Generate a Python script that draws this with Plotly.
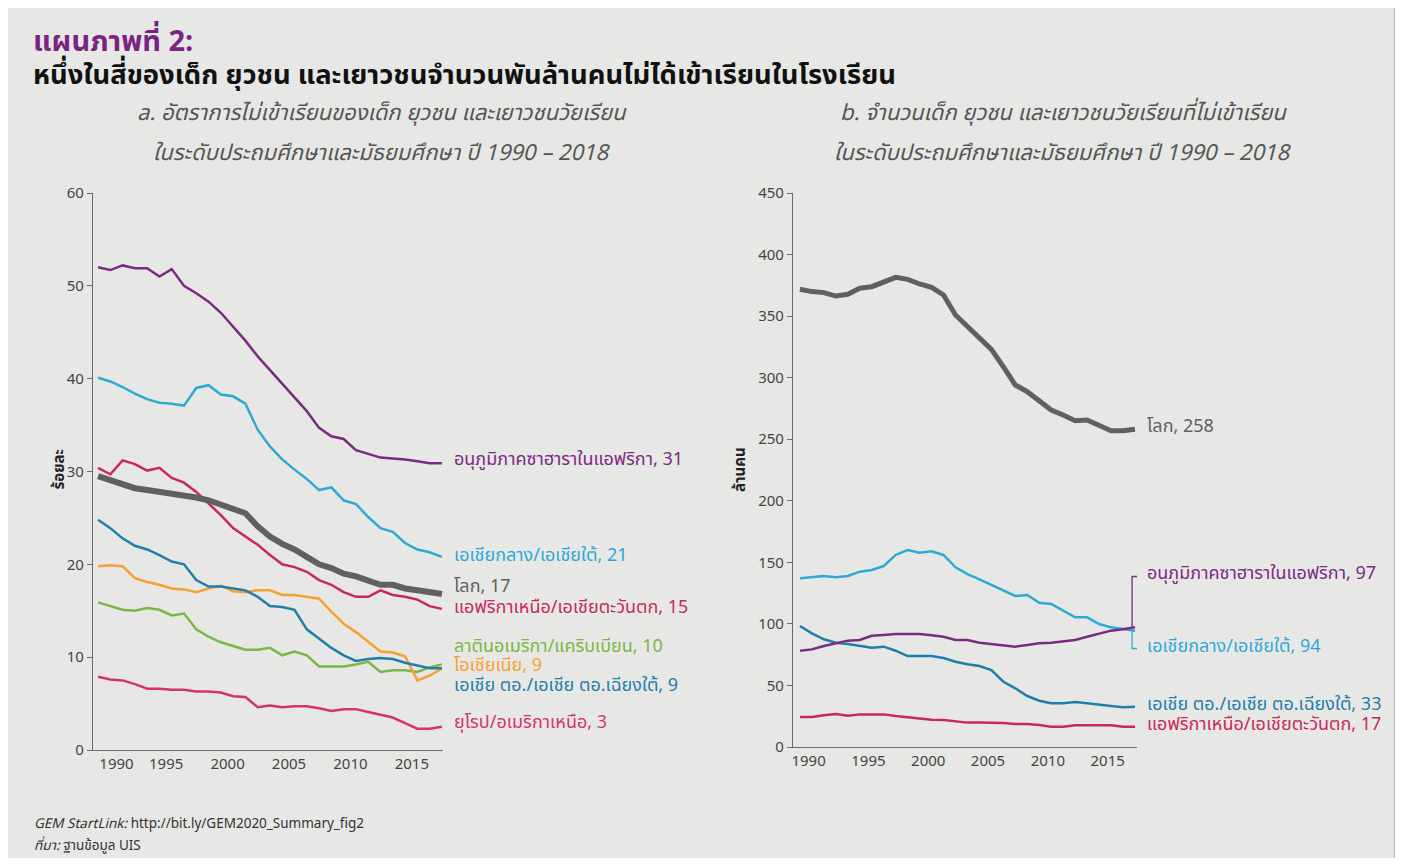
import plotly.graph_objects as go

# ---------------- data ----------------
years = list(range(1990, 2019))

# Panel a: out-of-school rate (%)
rate_ssa = [52.0, 51.7, 52.2, 51.9, 51.9, 51.0, 51.8, 50.0, 49.2, 48.3, 47.1, 45.6, 44.1, 42.4, 40.9,
            39.4, 37.9, 36.5, 34.7, 33.8, 33.5, 32.3, 31.9, 31.5, 31.4, 31.3, 31.1, 30.9, 30.9]
rate_csa = [40.1, 39.7, 39.1, 38.4, 37.8, 37.4, 37.3, 37.1, 39.0, 39.3, 38.3, 38.1, 37.3, 34.5, 32.7,
            31.3, 30.2, 29.2, 28.0, 28.3, 26.9, 26.5, 25.1, 23.9, 23.5, 22.3, 21.6, 21.3, 20.8]
rate_world = [29.5, 29.1, 28.7, 28.2, 28.0, 27.8, 27.7, 27.4, 27.2, 26.9, 26.4, 26.0, 25.5, 24.1, 23.0,
              22.2, 21.6, 20.8, 20.0, 19.6, 19.0, 18.7, 18.2, 17.8, 17.8, 17.4, 17.2, 17.0, 16.8]
rate_nawa = [30.4, 29.7, 31.2, 30.8, 30.1, 30.4, 29.3, 28.8, 27.8, 26.6, 25.3, 23.9, 23.0, 22.1, 21.0,
             20.0, 19.7, 19.2, 18.3, 17.8, 17.0, 16.5, 16.5, 17.2, 16.7, 16.5, 16.2, 15.5, 15.2]
rate_lac = [15.9, 15.5, 15.1, 15.0, 15.3, 15.1, 14.5, 14.7, 13.0, 12.2, 11.6, 11.2, 10.8, 10.8, 11.0,
            10.2, 10.6, 10.2, 9.0, 9.0, 9.0, 9.2, 9.5, 8.4, 8.6, 8.6, 8.4, 8.9, 9.2]
rate_oce = [19.8, 19.9, 19.8, 18.5, 18.1, 17.8, 17.4, 17.3, 17.0, 17.4, 17.7, 17.1, 17.0, 17.2, 17.2,
            16.7, 16.7, 16.5, 16.3, 14.9, 13.6, 12.7, 11.7, 10.6, 10.5, 10.1, 7.5, 8.0, 8.8]
rate_esea = [24.8, 23.9, 22.8, 22.0, 21.6, 21.0, 20.3, 20.0, 18.3, 17.6, 17.6, 17.4, 17.2, 16.5, 15.5,
             15.4, 15.1, 13.0, 12.0, 11.0, 10.2, 9.6, 9.8, 9.9, 9.8, 9.4, 9.1, 8.8, 8.8]
rate_euna = [7.9, 7.6, 7.5, 7.1, 6.6, 6.6, 6.5, 6.5, 6.3, 6.3, 6.2, 5.8, 5.7, 4.6, 4.8,
             4.6, 4.7, 4.7, 4.5, 4.2, 4.4, 4.4, 4.1, 3.8, 3.5, 2.9, 2.3, 2.3, 2.5]

# Panel b: number out of school (millions)
num_world = [371.8, 369.9, 369.1, 366.3, 367.7, 372.6, 373.9, 378.0, 381.5, 379.9, 376.1, 373.4, 367.2,
             350.9, 341.4, 332.0, 323.0, 308.9, 294.0, 288.6, 280.5, 273.7, 269.7, 265.0, 265.6, 261.6,
             256.9, 256.9, 258.1]
num_csa = [137.0, 137.8, 138.9, 137.8, 138.9, 142.4, 143.8, 147.0, 156.0, 160.0, 157.8, 159.0, 156.0,
           146.0, 140.5, 136.2, 131.6, 127.0, 122.7, 123.5, 117.2, 116.2, 110.7, 105.3, 105.3, 99.9,
           97.2, 95.6, 94.5]
num_ssa = [78.2, 79.3, 82.0, 84.2, 86.4, 86.9, 90.4, 91.0, 91.8, 91.8, 91.8, 90.7, 89.6, 86.9, 86.9,
           84.7, 83.7, 82.6, 81.5, 82.9, 84.2, 84.7, 85.5, 86.9, 89.6, 92.3, 94.5, 95.6, 97.2]
num_esea = [98.3, 92.3, 87.5, 84.7, 83.7, 82.3, 80.7, 81.5, 78.2, 73.9, 73.9, 73.9, 72.3, 69.3, 67.2,
            65.8, 62.5, 53.0, 47.7, 41.4, 37.6, 35.5, 35.5, 36.6, 35.5, 34.1, 33.3, 32.2, 32.6]
num_nawa = [24.4, 24.4, 25.7, 26.8, 25.4, 26.5, 26.5, 26.5, 25.2, 24.1, 22.7, 22.2, 21.9, 20.6, 19.8,
            19.8, 19.8, 19.5, 18.7, 18.7, 17.9, 16.5, 16.5, 17.6, 17.6, 17.6, 17.6, 16.5, 16.5]

left_names = ["อนุภูมิภาคซาฮาราในแอฟริกา, 31", "เอเชียกลาง/เอเชียใต้, 21", "โลก, 17",
              "แอฟริกาเหนือ/เอเชียตะวันตก, 15", "ลาตินอเมริกา/แคริบเบียน, 10", "โอเชียเนีย, 9",
              "เอเชีย ตอ./เอเชีย ตอ.เฉียงใต้, 9", "ยุโรป/อเมริกาเหนือ, 3"]
right_names = ["โลก, 258", "อนุภูมิภาคซาฮาราในแอฟริกา, 97", "เอเชียกลาง/เอเชียใต้, 94",
               "เอเชีย ตอ./เอเชีย ตอ.เฉียงใต้, 33", "แอฟริกาเหนือ/เอเชียตะวันตก, 17"]
tick_years = [1990, 1995, 2000, 2005, 2010, 2015]
left_yticks = [0, 10, 20, 30, 40, 50, 60]
right_yticks = [0, 50, 100, 150, 200, 250, 300, 350, 400, 450]

# ---------------- styles ----------------
C_SSA = "#7b2a84"
C_CSA = "#2ea9d6"
C_WORLD = "#606060"
C_NAWA = "#c8285c"
C_LAC = "#7ab648"
C_OCE = "#f5a033"
C_ESEA = "#1f7eaa"
C_EUNA = "#d6336e"
FONT = "Noto Sans Thai, Noto Sans, DejaVu Sans, sans-serif"

PAGE_W, PAGE_H = 1403, 866
BODY = 8  # default page margin around the figure
W, H = PAGE_W - 2 * BODY, PAGE_H - 2 * BODY


def px_x(p):
    return (p - BODY) / W


def px_y(p):
    return 1 - (p - BODY) / H


fig = go.Figure()

left_series = [
    (rate_ssa, C_SSA, 2.5), (rate_csa, C_CSA, 2.5), (rate_world, C_WORLD, 6),
    (rate_nawa, C_NAWA, 2.5), (rate_lac, C_LAC, 2.5), (rate_oce, C_OCE, 2.5),
    (rate_esea, C_ESEA, 2.5), (rate_euna, C_EUNA, 2.5),
]
order_left = [7, 4, 5, 6, 3, 1, 0, 2]
for i in order_left:
    vals, col, w = left_series[i]
    fig.add_trace(go.Scatter(x=years, y=vals, mode="lines", line=dict(color=col, width=w),
                             xaxis="x", yaxis="y", showlegend=False, hoverinfo="skip"))

right_series = [
    (num_world, C_WORLD, 5), (num_ssa, C_SSA, 2.5), (num_csa, C_CSA, 2.5),
    (num_esea, C_ESEA, 2.5), (num_nawa, C_NAWA, 2.5),
]
for vals, col, w in [right_series[i] for i in [4, 3, 2, 1, 0]]:
    fig.add_trace(go.Scatter(x=years, y=vals, mode="lines", line=dict(color=col, width=w),
                             xaxis="x2", yaxis="y2", showlegend=False, hoverinfo="skip"))

axis_common = dict(showgrid=False, zeroline=False, showline=True, linecolor="#6a6a6a", linewidth=1.2,
                   automargin=False, tickfont=dict(family=FONT, size=15, color="#444444"))

left_tickvals = [max(t + 0.55, 1991.5) for t in tick_years]
right_tickvals = [t + 0.72 for t in tick_years]

fig.update_layout(
    width=W, height=H, autosize=False,
    margin=dict(l=0, r=0, t=0, b=0, pad=0, autoexpand=False),
    paper_bgcolor="#e7e8e6", plot_bgcolor="rgba(0,0,0,0)",
    xaxis=dict(domain=[px_x(93), px_x(443)], range=[1989.59, 2018.09], tickvals=left_tickvals,
               ticktext=[str(t) for t in tick_years], ticks="", anchor="y", **axis_common),
    yaxis=dict(domain=[px_y(750), px_y(193)], range=[0, 60], tickvals=left_yticks, ticks="outside",
               ticklen=5, tickcolor="#6a6a6a", anchor="x", **axis_common),
    xaxis2=dict(domain=[px_x(793), px_x(1137)], range=[1989.42, 2018.17], tickvals=right_tickvals,
                ticktext=[str(t) for t in tick_years], ticks="", anchor="y2", **axis_common),
    yaxis2=dict(domain=[px_y(747), px_y(193)], range=[0, 450], tickvals=right_yticks, ticks="outside",
                ticklen=5, tickcolor="#6a6a6a", anchor="x2", **axis_common),
)

shapes = [
    dict(type="line", xref="paper", yref="paper", x0=0.9995, x1=0.9995, y0=0, y1=1,
         line=dict(color="#c4c4c4", width=1.5)),
    # bracket for panel b labels
    dict(type="path", xref="x2", yref="y2",
         path="M 2018.6,138.5 L 2017.76,138.5 L 2017.76,96.5",
         line=dict(color=C_SSA, width=1.3)),
    dict(type="path", xref="x2", yref="y2",
         path="M 2017.76,96.5 L 2017.76,80 L 2018.6,80",
         line=dict(color=C_CSA, width=1.3)),
]
fig.update_layout(shapes=shapes)

ann = []
ann.append(dict(text="<b>แผนภาพที่ 2:</b>", x=px_x(31), y=px_y(42), xref="paper", yref="paper",
                xanchor="left", yanchor="middle", showarrow=False,
                font=dict(family=FONT, size=29, color="#7b2382")))
ann.append(dict(text="<b>หนึ่งในสี่ของเด็ก ยุวชน และเยาวชนจำนวนพันล้านคนไม่ได้เข้าเรียนในโรงเรียน</b>",
                x=px_x(31), y=px_y(75), xref="paper", yref="paper", xanchor="left", yanchor="middle",
                showarrow=False, font=dict(family=FONT, size=27.4, color="#111111")))
panel_titles = [
    ("<i>a. อัตราการไม่เข้าเรียนของเด็ก ยุวชน และเยาวชนวัยเรียน</i>", 382, 113),
    ("<i>ในระดับประถมศึกษาและมัธยมศึกษา ปี 1990 – 2018</i>", 382, 153),
    ("<i>b. จำนวนเด็ก ยุวชน และเยาวชนวัยเรียนที่ไม่เข้าเรียน</i>", 1063, 113),
    ("<i>ในระดับประถมศึกษาและมัธยมศึกษา ปี 1990 – 2018</i>", 1063, 153),
]
for t, x, y in panel_titles:
    ann.append(dict(text=t, x=px_x(x), y=px_y(y), xref="paper", yref="paper", xanchor="center",
                    yanchor="middle", showarrow=False, font=dict(family=FONT, size=22, color="#555555")))
ann.append(dict(text="<b>ร้อยละ</b>", x=px_x(45), y=px_y(470), xref="paper", yref="paper", textangle=-90,
                showarrow=False, font=dict(family=FONT, size=15, color="#222222")))
ann.append(dict(text="<b>ล้านคน</b>", x=px_x(740), y=px_y(470), xref="paper", yref="paper", textangle=-90,
                showarrow=False, font=dict(family=FONT, size=15, color="#222222")))
left_label_y = [31.25, 20.9, 17.6, 15.3, 11.2, 9.05, 6.9, 3.0]
left_label_col = [C_SSA, C_CSA, C_WORLD, C_NAWA, C_LAC, C_OCE, C_ESEA, C_EUNA]
for name, yv, col in zip(left_names, left_label_y, left_label_col):
    ann.append(dict(text=name, x=years[-1], y=yv, xref="x", yref="y", xanchor="left", yanchor="middle",
                    xshift=10, showarrow=False, font=dict(family=FONT, size=18, color=col)))
right_label_y = [260.5, 141.3, 82.0, 34.9, 17.9]
right_label_col = [C_WORLD, C_SSA, C_CSA, C_ESEA, C_NAWA]
for name, yv, col in zip(right_names, right_label_y, right_label_col):
    ann.append(dict(text=name, x=years[-1], y=yv, xref="x2", yref="y2", xanchor="left", yanchor="middle",
                    xshift=10, showarrow=False, font=dict(family=FONT, size=18, color=col)))
ann.append(dict(text="<i>GEM StartLink:</i> http://bit.ly/GEM2020_Summary_fig2", x=px_x(32), y=px_y(824),
                xref="paper", yref="paper", xanchor="left", yanchor="middle", showarrow=False,
                font=dict(family=FONT, size=13.5, color="#333333")))
ann.append(dict(text="<i>ที่มา:</i> ฐานข้อมูล UIS", x=px_x(32), y=px_y(858),
                xref="paper", yref="paper", xanchor="left", yanchor="bottom", showarrow=False,
                font=dict(family=FONT, size=13.5, color="#333333")))
fig.update_layout(annotations=ann)

fig.write_html("out.html")
